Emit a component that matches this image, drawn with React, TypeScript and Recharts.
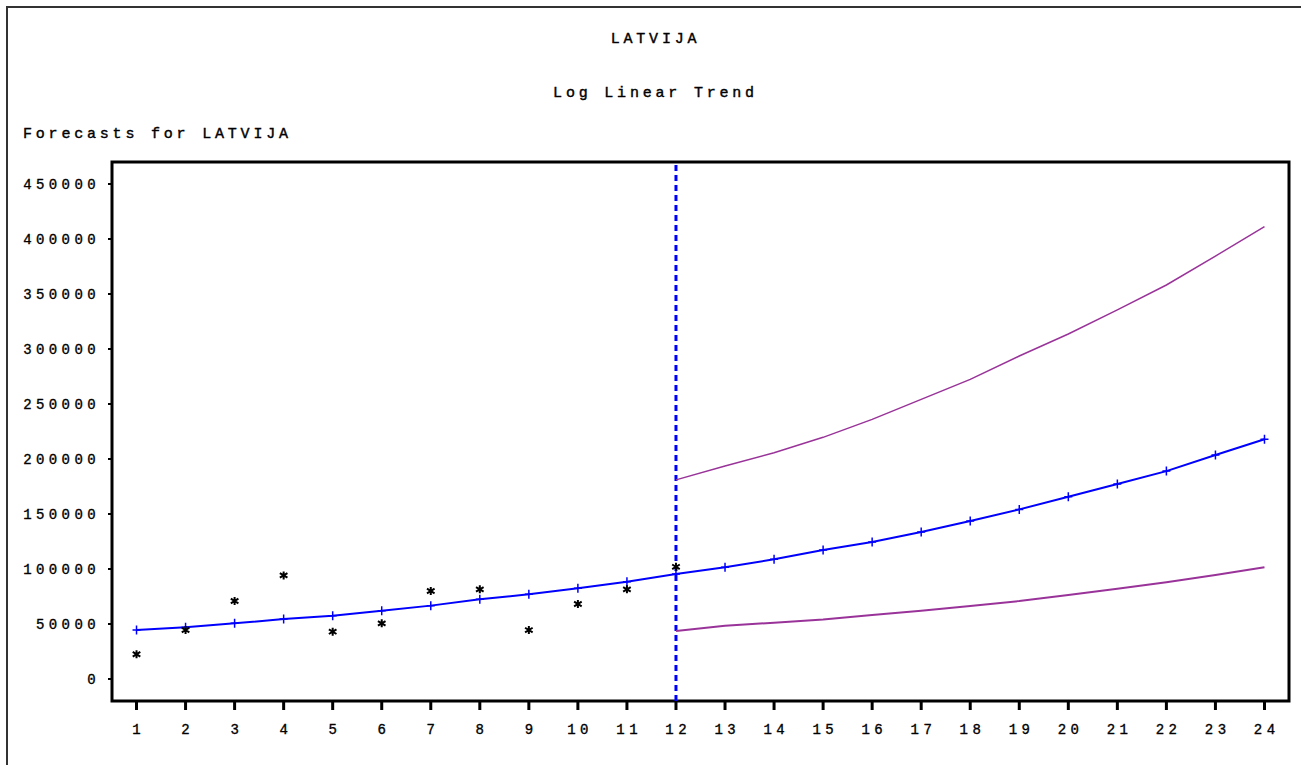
import React from 'react';
import { ComposedChart, Line, XAxis, YAxis, ReferenceLine, ReferenceArea } from 'recharts';

const periods = [1, 2, 3, 4, 5, 6, 7, 8, 9, 10, 11, 12, 13, 14, 15, 16, 17, 18, 19, 20, 21, 22, 23, 24];
const actualValues = [22500, 44500, 70900, 94200, 43000, 50600, 80000, 81500, 44500, 68200, 81500, 102000];
const forecastValues = [44500, 47000, 50600, 54500, 57600, 62000, 66700, 72400, 77000, 82400, 88500, 95500,
  101500, 108800, 117300, 124500, 133600, 143600, 154200, 165700, 177300, 189000, 203600, 217900];
const lowerValues = [43600, 48500, 51200, 54200, 58200, 62100, 66400, 70900, 76400, 82100, 87900, 94500, 101500];
const upperValues = [181000, 193600, 205700, 219700, 236000, 254200, 272400, 293600, 313600, 335500, 358200, 384500, 411200];
const yTicks = [0, 50000, 100000, 150000, 200000, 250000, 300000, 350000, 400000, 450000];
const forecastStart = 12;
const titleText = 'LATVIJA';
const subtitleText = 'Log Linear Trend';
const axisTitleText = 'Forecasts for LATVIJA';

const data = periods.map((p, i) => ({
  period: p,
  actual: i < actualValues.length ? actualValues[i] : null,
  forecast: forecastValues[i],
  lower: p >= forecastStart ? lowerValues[p - forecastStart] : null,
  upper: p >= forecastStart ? upperValues[p - forecastStart] : null,
}));

const FONT = '"Liberation Mono", "DejaVu Sans Mono", monospace';
const BLUE = '#0000ff';
const PURPLE = '#993399';

const StarDot = (props: any) => {
  const { cx, cy, value } = props;
  if (value == null || cy == null || isNaN(cy)) return null;
  const d = `M${cx},${cy - 4}L${cx},${cy + 4}M${cx - 3.8},${cy - 2.3}L${cx + 3.8},${cy + 2.3}M${cx - 3.8},${cy + 2.3}L${cx + 3.8},${cy - 2.3}`;
  return <path key={`s${props.index}`} d={d} stroke="#000" strokeWidth={2} fill="none" />;
};

const PlusDot = (props: any) => {
  const { cx, cy } = props;
  if (cy == null || isNaN(cy)) return null;
  const d = `M${cx - 4},${cy}L${cx + 4},${cy}M${cx},${cy - 4.5}L${cx},${cy + 4.5}`;
  return <path key={`p${props.index}`} d={d} stroke={BLUE} strokeWidth={1.5} fill="none" />;
};

const YTick = (props: any) => {
  const { x, y, payload } = props;
  return (
    <text x={x} y={y} dy={5} textAnchor="end" fontFamily={FONT} fontSize={14} fill="#000" stroke="#000" strokeWidth={0.35} letterSpacing={4.4}>
      {payload.value}
    </text>
  );
};

const XTick = (props: any) => {
  const { x, y, payload } = props;
  return (
    <text x={x + 2.2} y={y} dy={10} textAnchor="middle" fontFamily={FONT} fontSize={14} fill="#000" stroke="#000" strokeWidth={0.35} letterSpacing={4.4}>
      {payload.value}
    </text>
  );
};

const textStyle: React.CSSProperties = {
  position: 'absolute',
  fontFamily: FONT,
  fontSize: 15,
  letterSpacing: 3.8,
  color: '#000',
  WebkitTextStroke: '0.4px #000',
  whiteSpace: 'pre',
  lineHeight: '16px',
};

export default function App() {
  return (
    <div style={{ position: 'absolute', left: 0, top: 0, width: 1301, height: 765, overflow: 'hidden', background: '#fff' }}>
      <div style={{ position: 'absolute', left: 6, top: 6, width: 1400, height: 900, border: '2px solid #333', boxSizing: 'border-box' }} />
      <div style={{ ...textStyle, left: 0, width: 1311, top: 32, textAlign: 'center' }}>{titleText}</div>
      <div style={{ ...textStyle, left: 0, width: 1311, top: 86, textAlign: 'center' }}>{subtitleText}</div>
      <div style={{ ...textStyle, left: 23, top: 127 }}>{axisTitleText}</div>
      <div style={{ position: 'absolute', left: 0, top: 0 }}>
        <ComposedChart width={1301} height={765} data={data} margin={{ top: 162, right: 12, bottom: 0, left: 0 }}>
          <XAxis
            dataKey="period"
            type="number"
            domain={[0.5, 24.5]}
            ticks={periods}
            interval={0}
            axisLine={false}
            tickLine={{ stroke: '#000', strokeWidth: 3 }}
            tickSize={9}
            tickMargin={14}
            height={64}
            tick={<XTick />}
            allowDataOverflow
          />
          <YAxis
            type="number"
            domain={[-20000, 470000]}
            ticks={yTicks}
            interval={0}
            axisLine={false}
            tickLine={{ stroke: '#000', strokeWidth: 2 }}
            tickSize={4}
            tickMargin={8}
            width={112}
            tick={<YTick />}
            allowDataOverflow
          />
          <ReferenceArea x1={0.5} x2={24.5} y1={-20000} y2={470000} stroke="#000" strokeWidth={3} fill="none" fillOpacity={0} ifOverflow="visible" />
          <ReferenceLine x={forecastStart} stroke={BLUE} strokeWidth={3} strokeDasharray="6 4" ifOverflow="visible" />
          <Line dataKey="upper" type="linear" stroke={PURPLE} strokeWidth={1.5} dot={false} isAnimationActive={false} connectNulls={false} />
          <Line dataKey="lower" type="linear" stroke={PURPLE} strokeWidth={2} dot={false} isAnimationActive={false} connectNulls={false} />
          <Line dataKey="forecast" type="linear" stroke={BLUE} strokeWidth={2} dot={<PlusDot />} isAnimationActive={false} />
          <Line dataKey="actual" type="linear" stroke="none" dot={<StarDot />} isAnimationActive={false} connectNulls={false} />
        </ComposedChart>
      </div>
    </div>
  );
}
